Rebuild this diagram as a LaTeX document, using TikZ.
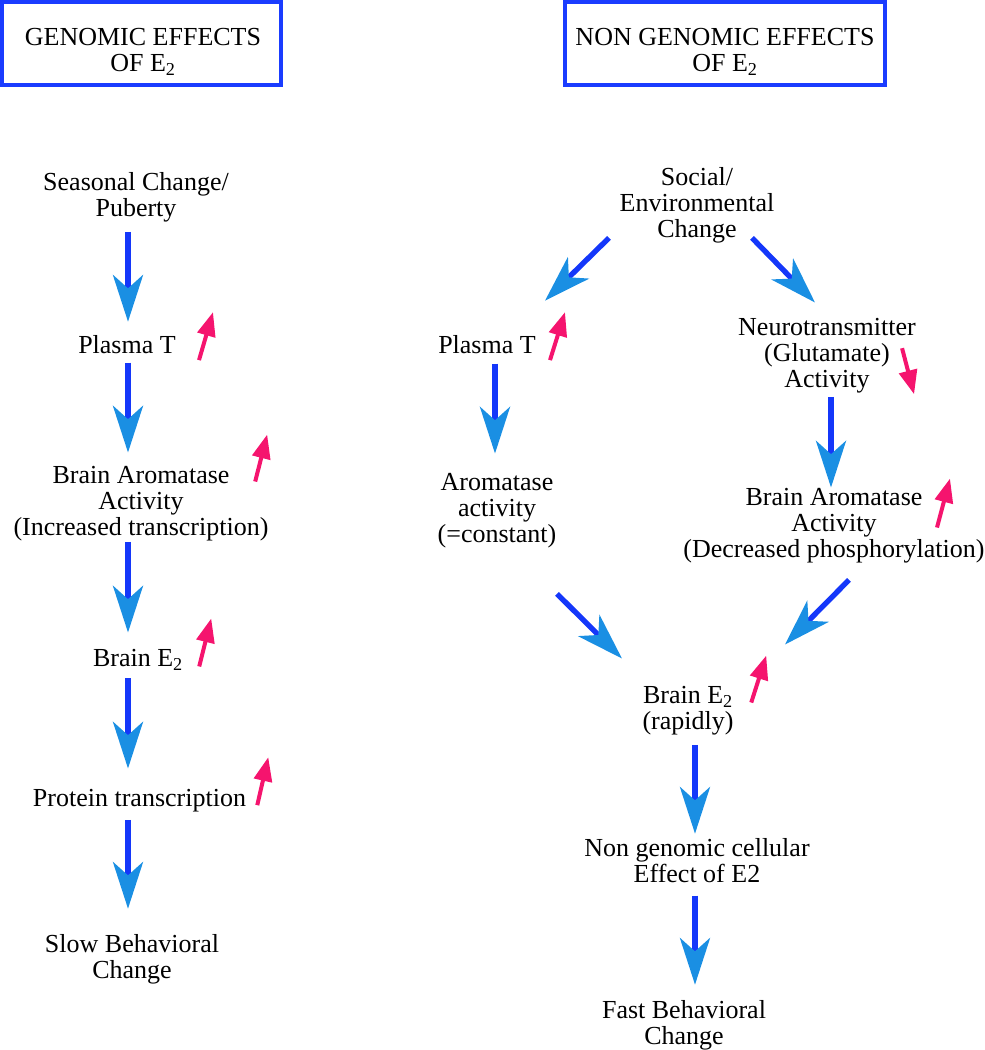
\documentclass[tikz,border=0pt]{standalone}
\usepackage{fontspec}
\setmainfont{Liberation Serif}
\usetikzlibrary{arrows.meta}
\definecolor{shaftblue}{HTML}{1437FA}
\definecolor{headblue}{HTML}{1A8FE3}
\definecolor{pinkred}{HTML}{F5146E}
\definecolor{boxblue}{HTML}{1A3CFF}

\begin{document}
\begin{tikzpicture}[x=0.75pt,y=-0.75pt,
  font=\fontsize{19.5}{19.5}\selectfont,
  txt/.style={align=center,inner sep=0pt,anchor=base},
  titlebox/.style={draw=boxblue,line width=3pt,inner sep=0pt,minimum height=62.25pt},
  flow/.style={draw=shaftblue,line width=4pt,-{Stealth[length=35pt,width=22.5pt,inset=10pt,color=headblue]}},
  rise/.style={draw=pinkred,line width=3pt,-{Triangle[length=18pt,width=13.5pt]}}]
\useasboundingbox (0,0) rectangle (985,1050);

\node[titlebox,minimum width=209.25pt] (boxG) at (141.5,43.5) {};
\node[txt] (titleG) at (143,71.5) {GENOMIC EFFECTS\\OF E\textsubscript{2}};
\node[titlebox,minimum width=240pt] (boxN) at (725,43.5) {};
\node[txt] (titleN) at (725,71.5) {NON GENOMIC EFFECTS\\OF E\textsubscript{2}};

\node[txt] (seasonal) at (136,216) {Seasonal Change/\\Puberty};
\node[txt] (plasmaL) at (127,353) {Plasma T};
\node[txt] (aromL) at (141,535) {Brain Aromatase\\Activity\\(Increased transcription)};
\node[txt] (brainEL) at (138,666) {Brain E\textsubscript{2}};
\node[txt] (proteinL) at (139.5,806) {Protein transcription};
\node[txt] (slowL) at (132,978) {Slow Behavioral\\Change};

\node[txt] (social) at (697,237) {Social/\\Environmental\\Change};
\node[txt] (plasmaR) at (487,353) {Plasma T};
\node[txt] (aromR) at (497,542) {Aromatase\\activity\\(=constant)};
\node[txt] (neuro) at (827,387) {Neurotransmitter\\(Glutamate)\\Activity};
\node[txt] (brainAromR) at (834,557) {Brain Aromatase\\Activity\\(Decreased phosphorylation)};
\node[txt] (brainER) at (688,729) {Brain E\textsubscript{2}\\(rapidly)};
\node[txt] (nongen) at (697,882) {Non genomic cellular\\Effect of E2};
\node[txt] (fast) at (684,1044) {Fast Behavioral\\Change};

\coordinate (colL) at (128,0);
\coordinate (colA) at (495,0);
\coordinate (colB) at (831,0);
\coordinate (colC) at (695,0);

\draw[flow,shorten <=7.5pt,shorten >=9.75pt] (colL |- seasonal.south) -- (colL |- plasmaL.north);
\draw[flow,shorten <=6.75pt,shorten >=9.75pt] (colL |- plasmaL.south) -- (colL |- aromL.north);
\draw[flow,shorten <=0.75pt,shorten >=12pt] (colL |- aromL.south) -- (colL |- brainEL.north);
\draw[flow,shorten <=6pt,shorten >=15pt] (colL |- brainEL.south) -- (colL |- proteinL.north);
\draw[flow,shorten <=6pt,shorten >=18.75pt] (colL |- proteinL.south) -- (colL |- slowL.north);

\draw[flow] ([shift={(-88,-5)}]social.south) -- ([shift={(58,-34)}]plasmaR.north);
\draw[flow] ([shift={(55,-5)}]social.south) -- ([shift={(-12,-15)}]neuro.north);
\draw[flow,shorten <=7.5pt,shorten >=14.25pt] (colA |- plasmaR.south) -- (colA |- aromR.north);
\draw[flow,shorten <=3pt] (colB |- neuro.south) -- (colB |- brainAromR.north);
\draw[flow] ([shift={(60,46)}]aromR.south) -- ([shift={(-66,-27)}]brainER.north);
\draw[flow] ([shift={(15,17)}]brainAromR.south) -- ([shift={(97,-41)}]brainER.north);
\draw[flow,shorten <=7.5pt,shorten >=3pt] (colC |- brainER.south) -- (colC |- nongen.north);
\draw[flow,shorten <=9.75pt,shorten >=11.25pt] (colC |- nongen.south) -- (colC |- fast.north);

\draw[rise] ([shift={(23,16)}]plasmaL.east) -- ++(14,-48);
\draw[rise] ([shift={(-13.5,16)}]aromL.north east) -- ++(12,-47);
\draw[rise] ([shift={(16,7)}]brainEL.east) -- ++(12,-48);
\draw[rise] ([shift={(11,5)}]proteinL.east) -- ++(11,-48);
\draw[rise] ([shift={(14,16)}]plasmaR.east) -- ++(15,-48);
\draw[rise] ([shift={(-14,-7)}]neuro.east) -- ++(12,46);
\draw[rise] ([shift={(103,40)}]brainAromR.north) -- ++(13,-49);
\draw[rise] ([shift={(17.5,17)}]brainER.north east) -- ++(15,-47);
\end{tikzpicture}
\end{document}
